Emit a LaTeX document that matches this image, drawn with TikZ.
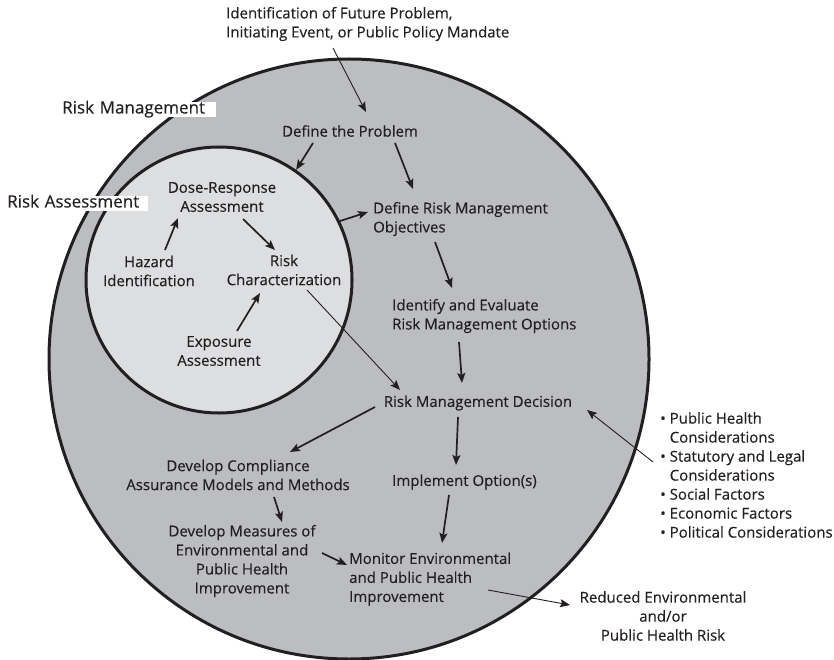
\documentclass[tikz,border=0pt]{standalone}
\usepackage{fontspec}
\setmainfont{Open Sans}[FakeBold=0.3]
\usetikzlibrary{arrows.meta}
\definecolor{ink}{RGB}{35,31,32}
\definecolor{rmgray}{RGB}{188,189,192}
\definecolor{ragray}{RGB}{221,222,224}

\begin{document}
\begin{tikzpicture}[x=1pt,y=-1pt,
  zone/.style={circle,draw=ink,line width=3pt,inner sep=0pt},
  txt/.style={inner sep=0pt,text=ink,font=\fontsize{15}{19}\selectfont},
  lbl/.style={fill=white,inner sep=0pt,anchor=west,align=left,text=ink,text height=11pt,text depth=4pt,font=\fontsize{17}{20}\selectfont},
  flow/.style={draw=ink,line width=1.7pt,-{Stealth[length=10pt,width=8pt,inset=2pt]}},
  feed/.style={flow,line width=0.9pt}]
\useasboundingbox (0,0) rectangle (834,660);

% the two zones
\node[zone,fill=rmgray,minimum size=600pt] (rm) at (349,359) {};
\node[zone,fill=ragray,minimum size=266pt] (ra) at (219,280) {};
\node[lbl,text width=154pt] (rmlabel) at (62,110) {Risk Management};
\node[lbl,text width=141pt] (ralabel) at (7,204) {Risk Assessment};

% risk management steps
\node[txt,anchor=west,align=left] (event) at (226,24) {Identification of Future Problem,\\Initiating Event, or Public Policy Mandate};
\node[txt] (problem) at (350,131) {Define the Problem};
\node[txt,anchor=west,align=left] (objectives) at (373,219) {Define Risk Management\\Objectives};
\node[txt,anchor=west,align=left] (options) at (392,316) {Identify and Evaluate\\Risk Management Options};
\node[txt] (decision) at (478,403) {Risk Management Decision};
\node[txt,anchor=west] (implement) at (392,482) {Implement Option(s)};
\node[txt,anchor=west,align=left] (monitor) at (349,579) {Monitor Environmental\\and Public Health\\Improvement};
\node[txt,align=center] (reduced) at (663,616) {Reduced Environmental\\and/or\\Public Health Risk};
\node[txt,anchor=west,align=left] (factors) at (660,475) {\textbullet\ Public Health\\\hphantom{\textbullet\ }Considerations\\\textbullet\ Statutory and Legal\\\hphantom{\textbullet\ }Considerations\\\textbullet\ Social Factors\\\textbullet\ Economic Factors\\\textbullet\ Political Considerations};
\node[txt,align=center] (compliance) at (238,475) {Develop Compliance\\Assurance Models and Methods};
\node[txt,align=center] (measures) at (242,561) {Develop Measures of\\Environmental and\\Public Health\\Improvement};

% risk assessment steps
\node[txt,align=center] (dose) at (222,197) {Dose-Response\\Assessment};
\node[txt,align=center] (hazard) at (149,271) {Hazard\\Identification};
\node[txt,align=center] (riskchar) at (284,270) {Risk\\Characterization};
\node[txt,align=center] (exposure) at (219,351) {Exposure\\Assessment};

% connectors
\draw[feed] ([shift={(107,24)}]event.west) -- ([shift={(16,-19)}]problem.center);
\draw[flow] ([shift={(-37,12)}]problem.center) -- (ra.55);
\draw[flow] ([shift={(45,12)}]problem.center) -- ([shift={(40,-30)}]objectives.west);
\draw[flow] (ra.26) -- ([shift={(-5,-7)}]objectives.west);
\draw[flow] ([shift={(62,23)}]objectives.west) -- ([shift={(60,-28)}]options.west);
\draw[flow] ([shift={(67,26)}]options.west) -- ([shift={(-16,-20)}]decision.center);
\draw[feed] ([shift={(23,20)}]riskchar.center) -- ([shift={(-78,-13)}]decision.center);
\draw[flow] ([shift={(-20,14)}]decision.center) -- ([shift={(64,-17)}]implement.west);
\draw[flow] ([shift={(57,13)}]implement.west) -- ([shift={(93,-36)}]monitor.west);
\draw[feed] ([shift={(139,11)}]monitor.west) -- ([shift={(-93,-11)}]reduced.center);
\draw[feed] ([shift={(-7,-13)}]factors.west) -- ([shift={(109,7)}]decision.center);
\draw[flow] ([shift={(-103,4)}]decision.center) -- ([shift={(52,-23)}]compliance.center);
\draw[flow] ([shift={(36,22)}]compliance.center) -- ([shift={(40,-39)}]measures.center);
\draw[flow] ([shift={(80,-8)}]measures.center) -- ([shift={(-2,-14)}]monitor.west);
\draw[flow] ([shift={(16,-21)}]hazard.center) -- ([shift={(-44,21)}]dose.center);
\draw[flow] ([shift={(21,22)}]dose.center) -- ([shift={(-9,-20)}]riskchar.center);
\draw[flow] ([shift={(18,-20)}]exposure.center) -- ([shift={(-24,23)}]riskchar.center);
\end{tikzpicture}
\end{document}
